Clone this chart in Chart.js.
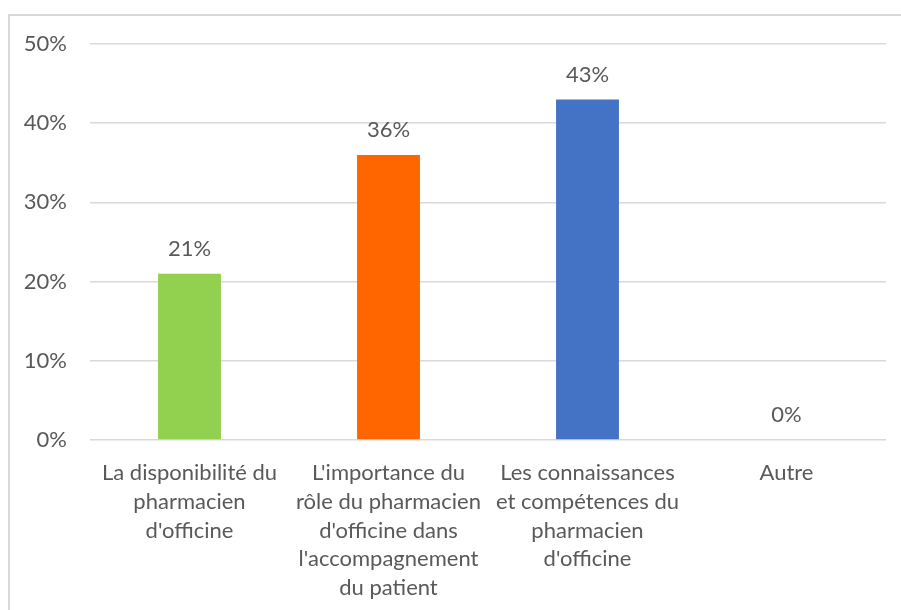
<!DOCTYPE html>
<html>
<head>
<meta charset="utf-8">
<script src="https://cdn.jsdelivr.net/npm/chart.js@4/dist/chart.umd.min.js"></script>
<style>
  html, body { margin: 0; padding: 0; background: #ffffff; }
  #frame { position: absolute; left: 8px; top: 14px; width: 900px; height: 600px;
           border-left: 2px solid #d9d9d9; border-top: 2px solid #d9d9d9; box-sizing: border-box; }
  #wrap { position: absolute; left: 0; top: 0; width: 901px; height: 610px; }
</style>
</head>
<body>
<div id="frame"></div>
<div id="wrap"><canvas id="c" width="901" height="610"></canvas></div>
<script>
// Categories (multi-line labels) and their shares in percent
const categories = [
  ["La disponibilité du", "pharmacien", "d'officine"],
  ["L'importance du", "rôle du pharmacien", "d'officine dans", "l'accompagnement", "du patient"],
  ["Les connaissances", "et compétences du", "pharmacien", "d'officine"],
  ["Autre"]
];
const values = [21, 36, 43, 0];
const barColors = ["#92d050", "#ff6600", "#4472c4", "#a5a5a5"];
const yTicks = [0, 10, 20, 30, 40, 50];

const FONT = "Lato, 'Open Sans', sans-serif";
const TEXT = "#595959";
const SIZE = 22;

// Writes each bar's value above it
const valueLabels = {
  id: 'valueLabels',
  afterDatasetsDraw(chart) {
    const ctx = chart.ctx;
    const meta = chart.getDatasetMeta(0);
    ctx.save();
    ctx.font = SIZE + "px " + FONT;
    ctx.fillStyle = TEXT;
    ctx.textAlign = 'center';
    ctx.textBaseline = 'middle';
    meta.data.forEach((bar, i) => {
      ctx.fillText(values[i] + '%', bar.x, bar.y - 25);
    });
    ctx.restore();
  }
};

new Chart(document.getElementById('c'), {
  type: 'bar',
  data: {
    labels: categories,
    datasets: [{
      data: values,
      backgroundColor: barColors,
      categoryPercentage: 1,
      barPercentage: 0.316
    }]
  },
  options: {
    responsive: false,
    animation: false,
    layout: { padding: { left: 0, right: 15, top: 44, bottom: 0 } },
    plugins: { legend: { display: false }, tooltip: { enabled: false } },
    scales: {
      x: {
        grid: { display: false, drawTicks: false },
        border: { display: false },
        ticks: {
          color: TEXT,
          font: { family: FONT, size: SIZE, lineHeight: 1.3 },
          padding: 19,
          maxRotation: 0,
          autoSkip: false
        },
        afterFit(scale) { scale.height = 170; }
      },
      y: {
        min: 0,
        max: 50,
        afterBuildTicks(scale) { scale.ticks = yTicks.map(v => ({ value: v })); },
        grid: { color: "#d9d9d9", lineWidth: 1.5, drawTicks: false },
        border: { display: false },
        ticks: {
          color: TEXT,
          font: { family: FONT, size: SIZE },
          padding: 23,
          callback: v => v + '%'
        },
        afterFit(scale) { scale.width = 90; }
      }
    }
  },
  plugins: [valueLabels]
});
</script>
</body>
</html>
